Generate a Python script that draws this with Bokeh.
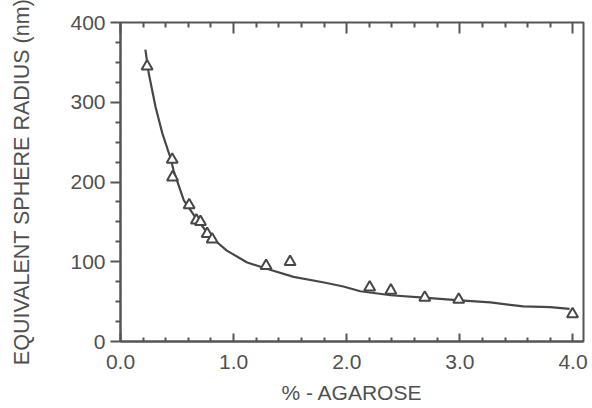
from bokeh.plotting import figure
from bokeh.models import Range1d, LinearAxis, FixedTicker
from bokeh.embed import file_html
from bokeh.resources import INLINE

# Measured data points (% agarose, equivalent sphere radius nm)
agarose = [0.235, 0.457, 0.46, 0.607, 0.671, 0.707, 0.766, 0.81, 1.287, 1.499,
           2.203, 2.39, 2.69, 2.99, 3.996]
radius = [345, 228, 206, 171, 152, 150, 135, 128, 95, 100,
          68, 64, 55, 52.5, 34.5]

# Fitted curve
curve_x = [0.22, 0.25, 0.31, 0.37, 0.44, 0.47, 0.56, 0.68, 0.80, 0.94, 1.12, 1.30,
           1.53, 1.80, 1.97, 2.12, 2.39, 2.68, 2.97, 3.27, 3.56, 3.80, 3.97]
curve_y = [366, 336, 294, 261, 231, 214, 177, 152, 131, 114, 99, 91,
           81, 74, 69, 63, 58, 55, 52, 49, 44, 43, 41]

x_ticks = [0, 1, 2, 3, 4]
x_minor = [0.2, 0.4, 0.6, 0.8, 1.2, 1.4, 1.6, 1.8, 2.2, 2.4, 2.6, 2.8,
           3.2, 3.4, 3.6, 3.8, 4.2]
x_tick_labels = {0: "0.0", 1: "1.0", 2: "2.0", 3: "3.0", 4: "4.0"}
y_ticks = [0, 100, 200, 300, 400]
y_minor = [25, 50, 75, 125, 150, 175, 225, 250, 275, 325, 350, 375]
x_title = "% - AGAROSE"
y_title = "EQUIVALENT SPHERE RADIUS (nm)"

FONT = "Liberation Sans"
AX = "#555555"
TXT = "#505050"

p = figure(width=588, height=408, output_backend="svg", toolbar_location=None,
           x_range=Range1d(0, 4.093), y_range=Range1d(0, 400),
           min_border_left=120, min_border_right=5, min_border_top=22,
           min_border_bottom=67, x_axis_location=None, y_axis_location=None)
p.grid.visible = False
p.outline_line_color = AX
p.outline_line_width = 2
p.background_fill_color = "white"
p.border_fill_color = "white"

def style(ax):
    ax.axis_line_color = AX
    ax.axis_line_width = 2
    ax.major_tick_line_color = AX
    ax.minor_tick_line_color = AX
    ax.major_tick_line_width = 2
    ax.minor_tick_line_width = 2
    ax.major_label_text_font = FONT
    ax.major_label_text_color = TXT
    ax.major_label_text_font_size = "21px"
    ax.axis_label_text_font = FONT
    ax.axis_label_text_color = TXT
    ax.axis_label_text_font_style = "normal"

# bottom axis: ticks inside
xb = LinearAxis(ticker=FixedTicker(ticks=x_ticks, minor_ticks=x_minor))
style(xb)
xb.major_label_overrides = x_tick_labels
xb.major_tick_in = 8
xb.major_tick_out = 0
xb.minor_tick_in = 4
xb.minor_tick_out = 0
xb.major_label_standoff = 13
p.add_layout(xb, "below")

# x title carried by a tick-less axis whose bounds set the label's centre
xlab = LinearAxis(ticker=FixedTicker(ticks=[], minor_ticks=[]), bounds=(1.0, 2.226),
                  axis_label=x_title)
style(xlab)
xlab.axis_line_color = None
xlab.major_tick_out = 0
xlab.major_tick_in = 0
xlab.minor_tick_in = 0
xlab.minor_tick_out = 0
xlab.major_label_standoff = 0
xlab.axis_label_standoff = 9
xlab.axis_label_text_font_size = "21px"
p.add_layout(xlab, "below")

# top edge: inward ticks only (no labels)
xt_minor = LinearAxis(ticker=FixedTicker(ticks=[], minor_ticks=x_minor))
style(xt_minor)
xt_minor.axis_line_color = None
xt_minor.major_tick_out = 1
xt_minor.minor_tick_in = 5
xt_minor.minor_tick_out = 0
xt_minor.major_label_standoff = 0
p.add_layout(xt_minor, "above")
xt_major = LinearAxis(ticker=FixedTicker(ticks=[], minor_ticks=x_ticks))
style(xt_major)
xt_major.axis_line_color = None
xt_major.major_tick_out = 1
xt_major.minor_tick_in = 11
xt_major.minor_tick_out = 0
xt_major.major_label_standoff = 0
p.add_layout(xt_major, "above")

# left axis: ticks outside
yl = LinearAxis(ticker=FixedTicker(ticks=y_ticks, minor_ticks=y_minor))
style(yl)
yl.major_tick_in = 0
yl.major_tick_out = 10
yl.minor_tick_in = 0
yl.minor_tick_out = 5
yl.major_label_standoff = 5
p.add_layout(yl, "left")

# y title carried by a tick-less axis
ylab = LinearAxis(ticker=FixedTicker(ticks=[], minor_ticks=[]), bounds=(-12.5, 349.1),
                  axis_label=y_title)
style(ylab)
ylab.axis_line_color = None
ylab.major_tick_out = 0
ylab.major_tick_in = 0
ylab.minor_tick_in = 0
ylab.minor_tick_out = 0
ylab.major_label_standoff = 0
ylab.axis_label_standoff = 34
ylab.axis_label_text_font_size = "21.5px"
p.add_layout(ylab, "left")

p.line(curve_x, curve_y, line_color="#474747", line_width=2.2)
p.scatter(agarose, radius, marker="triangle", size=11, line_color="#474747",
          line_width=2, fill_color="white")

open("out.html", "w").write(file_html(p, INLINE))
